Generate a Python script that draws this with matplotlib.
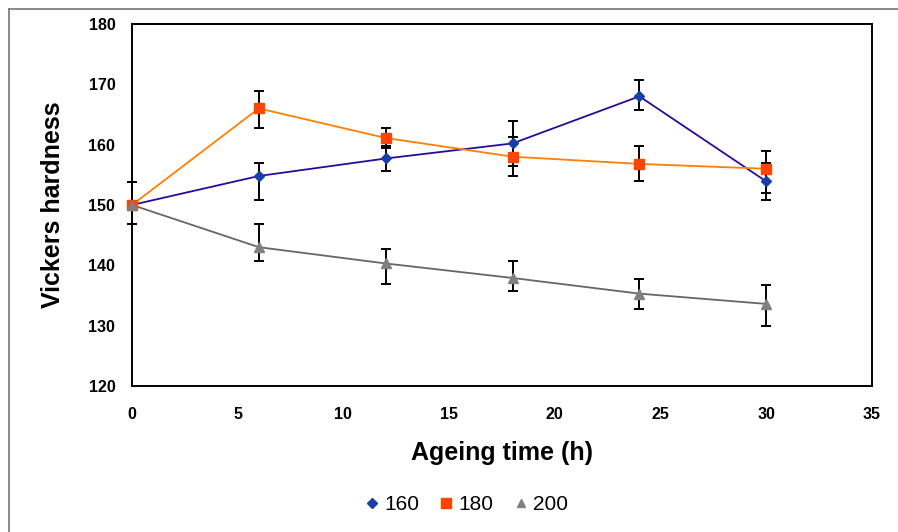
import matplotlib.pyplot as plt
from matplotlib.lines import Line2D
import numpy as np

plt.rcParams['font.family'] = ['Liberation Sans', 'DejaVu Sans']

# ageing time (h) and Vickers hardness per ageing temperature
time_h = [0, 6, 12, 18, 24, 30]
hv_160 = [150.0, 154.8, 157.7, 160.2, 168.0, 153.9]
hv_180 = [150.0, 166.0, 161.1, 158.0, 156.8, 156.0]
hv_200 = [150.0, 143.0, 140.3, 137.9, 135.3, 133.6]

# error bar limits (low / high)
low_160 = [146.9, 150.8, 155.7, 156.5, 165.7, 150.8]
high_160 = [153.8, 157.0, 159.7, 163.9, 170.7, 157.0]
low_180 = [146.9, 162.8, 159.4, 154.8, 153.9, 151.9]
high_180 = [153.8, 168.9, 162.8, 161.2, 159.8, 159.0]
low_200 = [146.9, 140.7, 136.9, 135.8, 132.8, 129.9]
high_200 = [153.8, 146.9, 142.7, 140.7, 137.8, 136.8]

labels = ['160', '180', '200']


def yerr(vals, low, high):
    v = np.array(vals)
    return [v - np.array(low), np.array(high) - v]


fig = plt.figure(figsize=(8.98, 5.32), dpi=100)
ax = fig.add_axes([0.147, 0.2745, 0.824, 0.6805])

series = [
    (hv_160, low_160, high_160, '#2a0a9c', '#1540a8', 'D', 5.5),
    (hv_180, low_180, high_180, '#ff8000', '#ff4500', 's', 7.5),
    (hv_200, low_200, high_200, '#666666', '#808080', '^', 6.5),
]

handles = []
for (vals, lo, hi, lc, mc, mk, ms), lab in zip(series, labels):
    ax.errorbar(time_h, vals, yerr=yerr(vals, lo, hi), fmt='none', ecolor='black',
                elinewidth=1.4, capsize=3.5, capthick=1.4, zorder=2, clip_on=False)
    ax.plot(time_h, vals, color=lc, lw=1.3, zorder=3, clip_on=False)
    ax.plot(time_h, vals, ls='none', marker=mk, ms=ms, color=mc, zorder=4, clip_on=False)
    handles.append(Line2D([], [], ls='none', marker=mk, ms=ms * 0.9, color=mc, label=lab))

ax.set_xlim(0, 35)
ax.set_ylim(120, 180)
ax.set_xticks(range(0, 36, 5))
ax.set_yticks(range(120, 181, 10))
ax.tick_params(length=0, labelsize=11.5)
ax.tick_params(axis='x', pad=15)
ax.tick_params(axis='y', pad=12)
for t in ax.get_xticklabels() + ax.get_yticklabels():
    t.set_fontweight('bold')
for s in ax.spines.values():
    s.set_linewidth(1.4)
    s.set_color('black')

ax.set_xlabel('Ageing time (h)', fontsize=18, fontweight='bold', labelpad=14)
ax.set_ylabel('Vickers hardness', fontsize=18, fontweight='bold', labelpad=17)

fig.legend(handles=handles, loc='center', bbox_to_anchor=(0.52, 0.051), ncol=3,
           frameon=False, fontsize=15, handlelength=0.6, handletextpad=0.3,
           columnspacing=1.0)

# outer chart-area border (top and left edges visible)
fig.add_artist(Line2D([8.5 / 898, 1.0], [1 - 9 / 532, 1 - 9 / 532],
                      transform=fig.transFigure, color='#808080', lw=1.3))
fig.add_artist(Line2D([8.5 / 898, 8.5 / 898], [0.0, 1 - 9 / 532],
                      transform=fig.transFigure, color='#808080', lw=1.3))

fig.savefig('out.png', dpi=100)
